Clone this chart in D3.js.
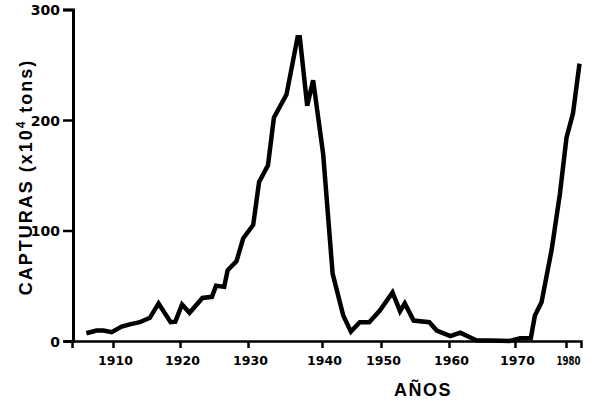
<!DOCTYPE html>
<html><head><meta charset="utf-8">
<script src="https://cdn.jsdelivr.net/npm/d3@7"></script>
<style>body{margin:0;background:#fff} svg{display:block}</style>
</head><body>
<svg id="chart" width="600" height="406"></svg>
<script>
// ---- data ----
const years = [1906.1,1907.6,1908.6,1909.8,1911.3,1912.5,1914.0,1915.5,1916.8,1918.6,
  1919.3,1920.3,1921.4,1923.3,1924.7,1925.3,1926.5,1927.0,1928.3,1929.3,
  1930.7,1931.5,1932.7,1933.5,1935.2,1936.7,1937.0,1938.0,1938.8,1940.2,
  1941.8,1943.6,1944.9,1946.4,1948.0,1949.8,1951.7,1952.8,1953.5,1954.8,
  1957.1,1958.2,1960.2,1961.7,1964.2,1966.2,1969.2,1971.0,1973.1,1973.9,
  1975.2,1977.2,1978.8,1980.1,1981.4,1982.7];
const catches = [7,9.5,9.5,8,13,15,17,21,34,17,
  17.5,33,25.5,39,40,50,49,64,72,93,
  105,144,159,202,223,275,275,213,236,169,
  61,23,8.5,17,17,27.5,44,27,34,18.5,
  17,9.5,4.5,7.5,0.5,0.5,0,2.5,2.5,23,
  35,83,133,184,206,251];
const xTickYears = [1910,1920,1930,1940,1950,1960,1970,1980];
const xTickLabels = ["1910","1920","1930","1940","1950","1960","1970","1980"];
const yTickValues = [0,100,200,300];
const xTitle = "AÑOS";

// ---- layout (hand-drawn, irregular year axis) ----
const axisY = 341, yTopPx = 9.5, axisX = 73;
const xEnds = [1904, 1983], xEndsPx = [72, 581];
const xTickPx = [113,180,248,322,381,449,515,566];

const svg = d3.select("#chart");

const x = d3.scaleLinear()
  .domain([xEnds[0], ...xTickYears, xEnds[1]])
  .range([xEndsPx[0], ...xTickPx, xEndsPx[1]]);
const y = d3.scaleLinear().domain([0, 300]).range([axisY, yTopPx]);

// y axis
const gy = svg.append("g").attr("transform", `translate(${axisX},0)`)
  .call(d3.axisLeft(y).tickValues(yTickValues).tickSizeOuter(0).tickSize(10).tickPadding(3));
gy.select(".domain").attr("stroke", "#000").attr("stroke-width", 3);
gy.selectAll(".tick line").attr("stroke", "#000").attr("stroke-width", 2.5);
gy.selectAll(".tick text").attr("font-family", "DejaVu Sans").attr("font-weight", "bold")
  .attr("font-size", 14).attr("fill", "#000").attr("dy", "0.36em");

// x axis
const gx = svg.append("g").attr("transform", `translate(0,${axisY})`)
  .call(d3.axisBottom(x).tickValues(xTickYears).tickSizeOuter(0).tickSize(7).tickPadding(8)
    .tickFormat((d, i) => xTickLabels[i]));
gx.select(".domain").attr("stroke", "#000").attr("stroke-width", 2.5);
gx.selectAll(".tick line").attr("stroke", "#000").attr("stroke-width", 2.5);
gx.selectAll(".tick text").attr("font-family", "DejaVu Sans").attr("font-weight", "bold")
  .attr("font-size", 12.5).attr("fill", "#000").attr("dx", 2)
  .filter((d) => d === 1980).attr("textLength", 24).attr("lengthAdjust", "spacingAndGlyphs");

// line
const line = d3.line().x((d, i) => x(years[i])).y(d => y(d));
svg.append("path").datum(catches)
  .attr("d", line)
  .attr("fill", "none").attr("stroke", "#000").attr("stroke-width", 4.5)
  .attr("stroke-linejoin", "miter").attr("stroke-miterlimit", 3);

// titles
svg.append("text").attr("x", 423).attr("y", 396).attr("text-anchor", "middle")
  .attr("font-family", "Liberation Sans").attr("font-weight", "bold").attr("font-size", 18)
  .attr("letter-spacing", 1.5).text(xTitle);

const yt = svg.append("text").attr("transform", "translate(32,177) rotate(-90)")
  .attr("text-anchor", "middle").attr("font-family", "Liberation Sans").attr("font-weight", "bold")
  .attr("font-size", 18).attr("letter-spacing", 2);
yt.append("tspan").text("CAPTURAS (x10");
yt.append("tspan").attr("font-size", 12).attr("dy", -7).text("4");
yt.append("tspan").attr("dy", 7).text(" tons)");
</script>
</body></html>
